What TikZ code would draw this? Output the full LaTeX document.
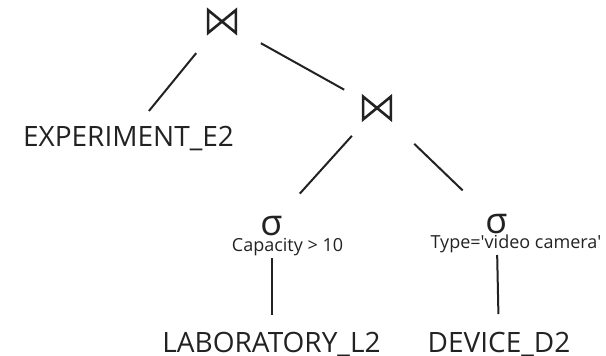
\documentclass[tikz,border=0pt]{standalone}
\usepackage{fontspec}
\setmainfont{Open Sans}
\usetikzlibrary{calc}
\definecolor{ink}{HTML}{222222}
\tikzset{
  big/.style={font=\fontsize{28}{28}\selectfont, text=ink, inner sep=0pt,
    text height=20pt, text depth=0pt},
  cond/.style={font=\fontsize{18}{18}\selectfont, text=ink, inner sep=0pt,
    text height=12.9pt, text depth=0pt},
  sel/.style={font=\fontsize{36}{36}\selectfont, text=ink, inner sep=0pt,
    text height=20pt, text depth=0pt},
  joinop/.style={minimum width=27.4pt, minimum height=22.4pt, inner sep=0pt},
  bowtie/.style={draw=ink, line width=2.6pt, line join=miter},
  edge/.style={draw=ink, line width=2pt},
}
\begin{document}
\begin{tikzpicture}[x=1pt, y=-1pt]
  \useasboundingbox (0,0) rectangle (606,356);

  % operators
  \node[joinop] (j1) at (222,21.5) {};
  \node[joinop] (j2) at (377,108) {};
  \foreach \j in {j1,j2}
    \draw[bowtie] (\j.north west) -- (\j.south east) -- (\j.north east)
      -- (\j.south west) -- cycle;

  \node[sel] (s1) at (271.5,225) {σ};
  \node[sel] (s2) at (496.5,223) {σ};
  \node[cond] (c1) at (287.5,244.6) {Capacity > 10};
  \node[cond] (c2) at (516,242.3)
    {Type=\textquotesingle video camera\textquotesingle};

  % relations
  \node[big] (exp) at (128.5,136) {EXPERIMENT\_E2};
  \node[big] (lab) at (271.5,342) {LABORATORY\_L2};
  \node[big] (dev) at (499,342) {DEVICE\_D2};

  % tree edges
  \draw[edge] ($(j1)!40.8pt!(exp)$) -- ($(exp)!32.3pt!(j1)$);
  \draw[edge] ($(j1)!44.5pt!(j2)$) -- ($(j2)!37.6pt!(j1)$);
  \draw[edge] ($(j2)!37.5pt!(s1)$) -- ($(s1)!42.3pt!(j2)$);
  \draw[edge] ($(j2)!51.7pt!(s2)$) -- ($(s2)!47pt!(j2)$);
  \draw[edge] ($(s1)!33pt!(lab)$) -- ($(lab)!27pt!(s1)$);
  \draw[edge] ($(s2)!32pt!(dev)$) -- ($(dev)!28pt!(s2)$);
\end{tikzpicture}
\end{document}
